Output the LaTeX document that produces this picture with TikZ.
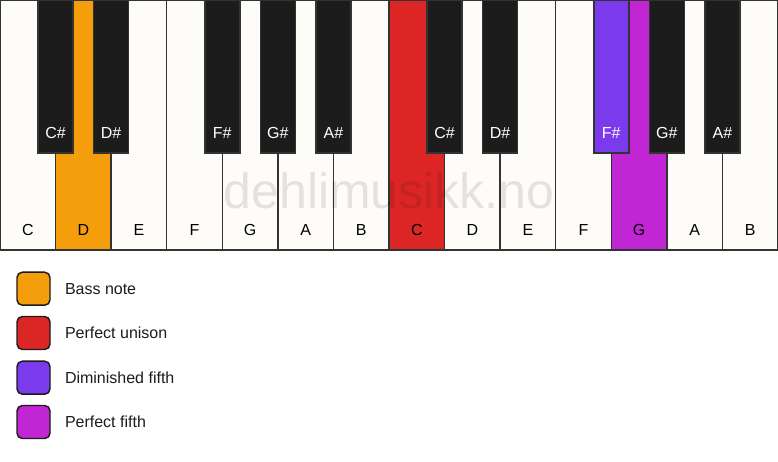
\documentclass[tikz,border=0pt]{standalone}
\usepackage{fontspec}
\setmainfont{Liberation Sans}
\usepackage{tikz}
\usetikzlibrary{positioning}

\definecolor{ivory}{HTML}{FDFCF8}
\definecolor{ebony}{HTML}{1C1C1C}
\definecolor{edge}{HTML}{333333}
\definecolor{bass}{HTML}{F59E0B}
\definecolor{unison}{HTML}{DC2626}
\definecolor{dimfifth}{HTML}{7C3AED}
\definecolor{perffifth}{HTML}{C026D3}

\tikzset{
  whitekey/.style={draw=edge, line width=1.1pt, rectangle, inner sep=0, outer sep=0,
    minimum width=41.68pt, minimum height=187.5pt},
  blackkey/.style={draw=edge, line width=1.1pt, rectangle, inner sep=0, outer sep=0,
    minimum width=26.25pt, minimum height=114.75pt},
  keyname/.style={inner sep=0, font=\fontsize{12}{14}\selectfont},
  swatch/.style={draw=ebony, line width=1.1pt, rounded corners=4pt, inner sep=0,
    minimum size=24.75pt},
  legendtext/.style={inner sep=0, anchor=west, text=ebony, font=\fontsize{12}{14}\selectfont}
}

\begin{document}
\begin{tikzpicture}[x=0.75pt,y=-0.75pt]
  \useasboundingbox[fill=white] (0,0) rectangle (778,461);

  % white keys
  \foreach \i/\n/\c in {1/C/ivory,2/D/bass,3/E/ivory,4/F/ivory,5/G/ivory,6/A/ivory,7/B/ivory,
                        8/C/unison,9/D/ivory,10/E/ivory,11/F/ivory,12/G/perffifth,13/A/ivory,14/B/ivory}{
    \node[whitekey, fill=\c] (wk\i) at ({(\i-0.5)*55.571},125) {};
    \node[keyname] (wn\i) at ([yshift=15pt]wk\i.south) {\n};
  }

  % black keys
  \foreach \i/\n/\c/\t in {1/C\#/ebony/white,2/D\#/ebony/white,4/F\#/ebony/white,5/G\#/ebony/white,6/A\#/ebony/white,
                           8/C\#/ebony/white,9/D\#/ebony/white,11/F\#/dimfifth/white,12/G\#/ebony/white,13/A\#/ebony/white}{
    \node[blackkey, fill=\c] (bk\i) at ({\i*55.571},76.5) {};
    \node[keyname, text=\t] (bn\i) at ([yshift=15pt]bk\i.south) {\n};
  }

  % watermark
  \node[inner sep=0, text=black, text opacity=0.1, font=\fontsize{37.5}{42}\selectfont] (mark) at (389,191) {dehlimusikk.no};

  % legend
  \node[swatch, fill=bass] (sw1) at (33.5,288.7) {};
  \node[legendtext, right=10.5pt of sw1] (lt1) {Bass note};
  \node[swatch, fill=unison] (sw2) at (33.5,333) {};
  \node[legendtext, right=10.5pt of sw2] (lt2) {Perfect unison};
  \node[swatch, fill=dimfifth] (sw3) at (33.5,377.7) {};
  \node[legendtext, right=10.5pt of sw3] (lt3) {Diminished fifth};
  \node[swatch, fill=perffifth] (sw4) at (33.5,422) {};
  \node[legendtext, right=10.5pt of sw4] (lt4) {Perfect fifth};
\end{tikzpicture}
\end{document}
